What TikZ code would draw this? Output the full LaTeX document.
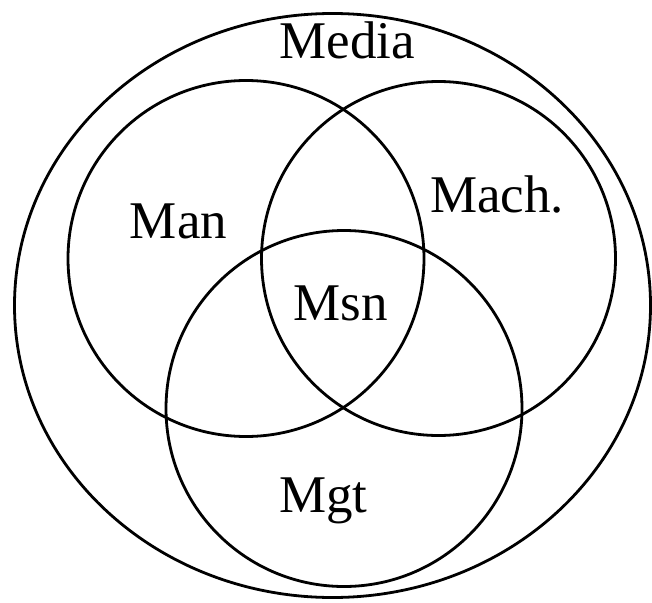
\documentclass[tikz,border=0pt]{standalone}
\usepackage{fontspec}
\setmainfont{Liberation Serif}
\usepackage{tikz}
\usetikzlibrary{positioning}

\begin{document}
\begin{tikzpicture}[x=1pt, y=-1pt]
    \tikzstyle{ring} = [line width=2.8pt]
    \tikzstyle{label} = [anchor=base, inner sep=0pt, font=\fontsize{53}{60}\selectfont]

    \useasboundingbox (0,0) rectangle (652,602);

    \coordinate (mediac) at (332.5,305.5);
    \coordinate (manc) at (246,258.5);
    \coordinate (machc) at (438.5,258.5);
    \coordinate (mgtc) at (344,408.5);

    \draw [ring] (mediac) ellipse [x radius=318, y radius=292];
    \draw [ring] (manc) circle [radius=178];
    \draw [ring] (machc) circle [radius=177];
    \draw [ring] (mgtc) circle [radius=178];

    \node [label] (media) at (347.5,59) {Media};
    \node [label] (man) at (178.5,238) {Man};
    \node [label] (mach) at (497,212) {Mach.};
    \node [label] (msn) at (341,320) {Msn};
    \node [label] (mgt) at (323.5,512) {Mgt};
\end{tikzpicture}
\end{document}
